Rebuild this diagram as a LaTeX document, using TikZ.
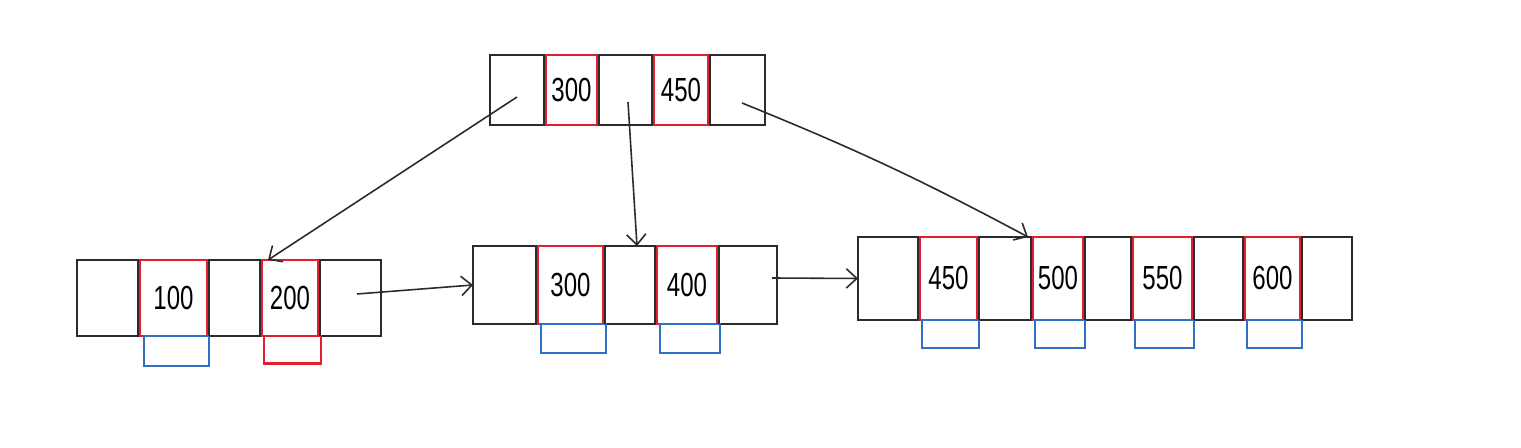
\documentclass[tikz,border=0pt]{standalone}
\usepackage{fontspec}
\setmainfont{Liberation Sans}[FakeStretch=0.72]
\usetikzlibrary{positioning,arrows.meta}
\definecolor{ink}{HTML}{2B2B2B}
\definecolor{inkred}{HTML}{E0202E}
\definecolor{inkblue}{HTML}{2F6FC4}

\begin{document}
\begin{tikzpicture}[
  every node/.style={font=\fontsize{19}{19}\selectfont,inner sep=0pt,outer sep=0pt},
  line width=1.2pt,
  treenode/.style={draw=ink,rectangle},
  keybox/.style={draw=inkred,rectangle},
  ptrbox/.style={draw=inkblue,rectangle},
  ptr/.style={draw=ink,line width=.9pt,-{Straight Barb[length=6pt,width=11pt]}}]
  \useasboundingbox (0,0) rectangle (30.42,8.96);
  % root
  \node[treenode,minimum width=5.5cm,minimum height=1.4cm] (root) at (12.55,7.16) {};
  \node[keybox,minimum width=1.02cm,minimum height=1.4cm] (r300) at (11.43,0 |- root) {300};
  \node[keybox,minimum width=1.08cm,minimum height=1.4cm] (r450) at (13.62,0 |- root) {450};
  % leaves
  \node[treenode,minimum width=6.08cm,minimum height=1.52cm] (leafa) at (4.58,3.0) {};
  \node[treenode,minimum width=6.08cm,minimum height=1.56cm] (leafb) at (12.5,3.26) {};
  \node[treenode,minimum width=9.88cm,minimum height=1.66cm] (leafc) at (22.1,3.39) {};
  \node[keybox,minimum width=1.34cm,minimum height=1.52cm] (a100) at (3.47,0 |- leafa) {100};
  \node[ptrbox,minimum width=1.3cm,minimum height=.6cm,below=0pt of a100,xshift=1.5pt] (d100) {};
  \node[keybox,minimum width=1.12cm,minimum height=1.52cm] (a200) at (5.8,0 |- leafa) {200};
  \node[keybox,minimum width=1.14cm,minimum height=.55cm,below=0pt of a200,xshift=1.5pt] (d200) {};
  \foreach \k/\x/\w in {300/11.41/1.3, 400/13.74/1.2}{
    \node[keybox,minimum width=\w cm,minimum height=1.56cm] (b\k) at (\x,0 |- leafb) {\k};
    \node[ptrbox,minimum width=\w cm,minimum height=.58cm,below=0pt of b\k,xshift=1.5pt] (e\k) {};
  }
  \foreach \k/\x/\w in {450/18.97/1.14, 500/21.16/1.0, 550/23.25/1.18, 600/25.45/1.1}{
    \node[keybox,minimum width=\w cm,minimum height=1.66cm] (c\k) at (\x,0 |- leafc) {\k};
    \node[ptrbox,minimum width=\w cm,minimum height=.56cm,below=0pt of c\k,xshift=1pt] (f\k) {};
  }
  \foreach \n in {r300,r450,a100,a200,b300,b400,c450,c500,c550,c600}
    \draw[ink] ([xshift=-1.2pt]\n.north west) -- ([xshift=-1.2pt]\n.south west)
      ([xshift=1.2pt]\n.north east) -- ([xshift=1.2pt]\n.south east);
  % pointers
  \coordinate (rp0) at (10.34,7.02);
  \coordinate (rp1) at (12.56,6.92);
  \coordinate (rp2) at (14.84,6.9);
  \coordinate (na) at (7.14,3.08);
  \coordinate (nb) at (15.44,3.4);
  \draw[ptr] (rp0) -- (5.36,0 |- leafa.north);
  \draw[ptr] (rp1) -- (12.74,0 |- leafb.north);
  \draw[ptr] (rp2) to[bend left=3] (20.56,0 |- leafc.north);
  \draw[ptr] (na) -- (leafb.west);
  \draw[ptr] (nb) -- (leafc.west);
\end{tikzpicture}
\end{document}
